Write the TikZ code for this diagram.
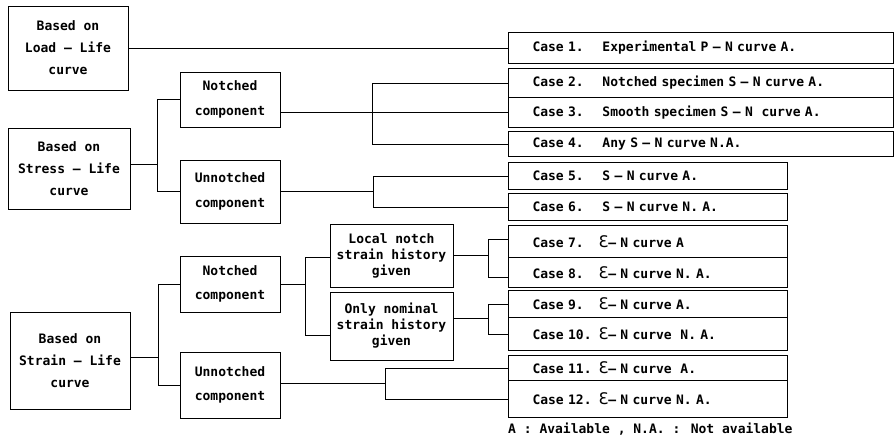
\documentclass[tikz,border=0pt]{standalone}
\usepackage{fontspec}
\setmainfont{DejaVu Sans Mono}
\newfontfamily\epsfont{DejaVu Sans}
\newcommand{\myeps}{{\epsfont\mdseries\fontsize{16}{16}\selectfont Ɛ}}
\begin{document}
\begin{tikzpicture}[x=1pt,y=-1pt,
  every node/.style={font=\bfseries\fontsize{13}{16}\selectfont},
  box/.style={draw, line width=1pt, align=center, inner sep=2pt},
  wide/.style={font=\bfseries\fontsize{13}{22}\selectfont},
  wider/.style={font=\bfseries\fontsize{13}{24.5}\selectfont},
  casebox/.style={draw, line width=1pt, anchor=north west, inner xsep=24pt, inner ysep=0pt, align=left},
  conn/.style={line width=1pt}]
\useasboundingbox (0,0) rectangle (895,445);

% left column
\node[box, wide, minimum width=120pt, minimum height=84pt] (L1) at (68,48) {Based on\\Load – Life\\curve};
\node[box, wide, minimum width=122pt, minimum height=81pt] (L2) at (69,168.5) {Based on\\Stress – Life\\curve};
\node[box, wide, minimum width=120pt, minimum height=97pt] (L3) at (70,360.5) {Based on\\Strain – Life\\curve};

% second column
\node[box, wider, minimum width=100pt, minimum height=55pt] (nn1) at (230,99.5) {Notched\\component};
\node[box, wider, minimum width=100pt, minimum height=63pt] (un1) at (230,191.5) {Unnotched\\component};
\node[box, wider, minimum width=100pt, minimum height=56pt] (nn2) at (230,284) {Notched\\component};
\node[box, wider, minimum width=100pt, minimum height=66pt] (un2) at (230,385) {Unnotched\\component};

% third column
\node[box, minimum width=123pt, minimum height=63pt] (ln) at (391.5,255.5) {Local notch\\strain history\\given};
\node[box, minimum width=123pt, minimum height=68pt] (on) at (391.5,326) {Only nominal\\strain history\\given};

% cases
\node[casebox, minimum width=385pt, minimum height=31pt, text width=337pt] (c1) at (508,32) {\makebox[70pt][l]{Case 1.}Experimental P – N curve A.};
\node[casebox, minimum width=385pt, minimum height=29pt, text width=337pt] (c2) at (508,68) {\makebox[70pt][l]{Case 2.}Notched specimen S – N curve A.};
\node[casebox, minimum width=385pt, minimum height=30pt, text width=337pt] (c3) at (508,97) {\makebox[70pt][l]{Case 3.}Smooth specimen S – N\ \ curve A.};
\node[casebox, minimum width=385pt, minimum height=25pt, text width=337pt] (c4) at (508,131) {\makebox[70pt][l]{Case 4.}Any S – N curve N.A.};
\node[casebox, minimum width=279pt, minimum height=27pt, text width=231pt] (c5) at (508,162) {\makebox[70pt][l]{Case 5.}S – N curve A.};
\node[casebox, minimum width=279pt, minimum height=27pt, text width=231pt] (c6) at (508,193) {\makebox[70pt][l]{Case 6.}S – N curve N. A.};
\node[casebox, minimum width=279pt, minimum height=32pt, text width=231pt] (c7) at (508,225) {\makebox[66pt][l]{Case 7.}\myeps – N curve A};
\node[casebox, minimum width=279pt, minimum height=30pt, text width=231pt] (c8) at (508,257) {\makebox[66pt][l]{Case 8.}\myeps – N curve N. A.};
\node[casebox, minimum width=279pt, minimum height=27pt, text width=231pt] (c9) at (508,290) {\makebox[66pt][l]{Case 9.}\myeps– N curve A.};
\node[casebox, minimum width=279pt, minimum height=33pt, text width=231pt] (c10) at (508,317) {\makebox[66pt][l]{Case 10.}\myeps– N curve\ \ N. A.};
\node[casebox, minimum width=279pt, minimum height=25pt, text width=231pt] (c11) at (508,355) {\makebox[66pt][l]{Case 11.}\myeps– N curve\ \ A.};
\node[casebox, minimum width=279pt, minimum height=37pt, text width=231pt] (c12) at (508,380) {\makebox[66pt][l]{Case 12.}\myeps– N curve N. A.};

\node[anchor=west, inner xsep=0pt] (note) at (508,429) {A : Available , N.A. : Not available};

% trunk coordinates
\coordinate (tS) at (157,0);
\coordinate (tL3) at (158,0);
\coordinate (tN1) at (372,0);
\coordinate (tU1) at (373,0);
\coordinate (tN2) at (305,0);
\coordinate (tU2) at (385,0);
\coordinate (tL) at (488,0);

% shifted connection points
\coordinate (L2o) at ([yshift=4.5pt]L2.east);
\coordinate (L3o) at ([yshift=3.5pt]L3.east);
\coordinate (lni) at ([yshift=-1.5pt]ln.west);
\coordinate (oni) at ([yshift=-9pt]on.west);
\coordinate (ono) at ([yshift=8pt]on.east);
\coordinate (c7i) at ([yshift=2pt]c7.west);
\coordinate (c8i) at ([yshift=-5pt]c8.west);
\coordinate (un2o) at ([yshift=2pt]un2.east);

% connectors
\draw[conn] (L1.east) -- (L1.east -| c1.west);

\draw[conn] (L2o) -- (tS |- L2o);
\draw[conn] (nn1.west) -| (tS |- un1.west) -- (un1.west);

\draw[conn] (nn1.east |- c3.west) -- (c3.west);
\draw[conn] (c2.west) -| (tN1 |- c4.west) -- (c4.west);

\draw[conn] (un1.east) -- (tU1 |- un1.east);
\draw[conn] (c5.west) -| (tU1 |- c6.west) -- (c6.west);

\draw[conn] (L3o) -- (tL3 |- L3o);
\draw[conn] (nn2.west) -| (tL3 |- un2.west) -- (un2.west);

\draw[conn] (nn2.east) -- (tN2 |- nn2.east);
\draw[conn] (lni) -| (tN2 |- oni) -- (oni);

\draw[conn] (ln.east) -- (tL |- ln.east);
\draw[conn] (c7i) -| (tL |- c8i) -- (c8i);

\draw[conn] (ono) -- (tL |- ono);
\draw[conn] (c9.west) -| (tL |- c10.west) -- (c10.west);

\draw[conn] (un2o) -- (tU2 |- un2o);
\draw[conn] (c11.west) -| (tU2 |- c12.west) -- (c12.west);
\end{tikzpicture}
\end{document}
